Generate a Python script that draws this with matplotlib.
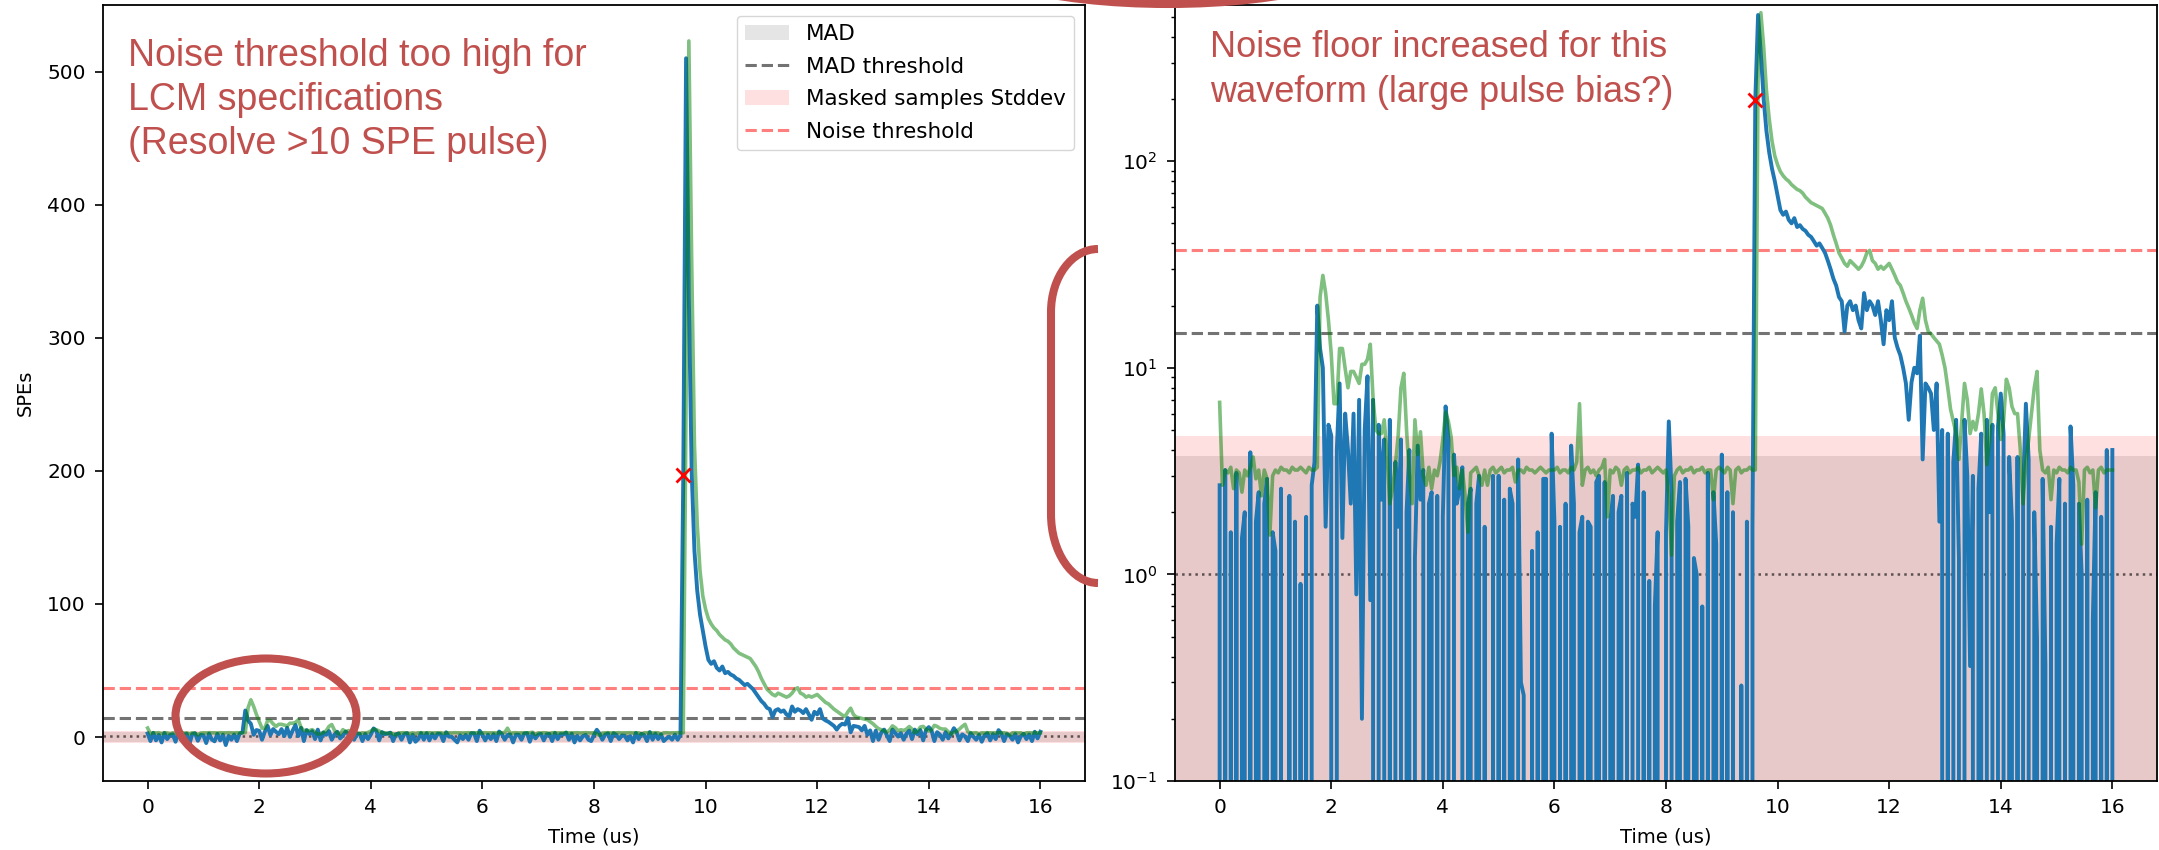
import numpy as np
import matplotlib
matplotlib.use("Agg")
import matplotlib.pyplot as plt
from matplotlib.patches import Ellipse, PathPatch
from matplotlib.path import Path
from matplotlib.transforms import Affine2D

# ---------------- data ----------------
sample_period_us = 0.05

# waveform (blue), one row per microsecond, 20 samples per row
blue_spes = [
    2.7, -3.0, 3.2, -2.5, 1.6, -4.0, 3.1, -1.5, 1.5, 2.0, -3.5, 3.9, -2.0, 1.8, 2.5, -5.0, 2.2, 2.9, -2.8, 1.6,
    1.3, -4.5, 2.6, -1.8, -3.2, 2.4, -2.5, 1.8, -6.0, 0.9, -2.0, 1.9, -3.0, 2.7, 3.5, 20.0, 12.4, 10.0, 1.7, 5.3,
    4.7, -2.0, 4.0, 8.4, 1.5, 6.0, 4.0, 2.2, 6.0, 0.8, 7.0, 0.2, 5.0, 9.1, 0.75, 7.0, -3.0, 5.3, 2.3, 4.5,
    -1.5, 5.6, -2.5, 3.5, 1.7, 4.5, -2.0, 2.0, 4.0, -1.0, 1.2, 4.2, 2.3, 3.2, -2.0, 2.2, 2.5, -3.0, 2.4, -1.5,
    1.9, 6.5, 4.5, -2.5, 3.8, 2.2, 2.6, 3.3, -3.0, 2.2, 2.6, -2.0, 2.2, 3.0, -4.0, 1.7, -3.5, -1.5, 3.0, -2.0,
    3.0, -2.5, 2.3, -1.0, 2.6, 2.2, -3.0, 3.6, 0.3, 0.26, -2.0, -4.0, 1.3, -1.5, 1.6, -2.0, 2.9, 2.9, -3.0, 4.8,
    1.8, -2.5, 1.7, -1.5, 2.2, -3.0, 4.2, 2.2, -2.0, 1.6, 1.9, -4.0, 1.8, 1.7, -2.0, 2.8, 3.0, -3.5, 2.8, -1.0,
    1.8, 2.4, -2.5, 2.0, 2.4, -3.0, 3.1, -1.5, 2.2, 1.9, 3.4, -2.0, 2.5, -4.0, 0.93, -2.5, 0.7, 1.6, -2.0, -3.0,
    1.6, 5.5, 2.5, -2.0, 1.8, 2.8, -3.0, 2.9, 1.7, -1.5, 1.2, 1.0, -2.5, 0.7, -4.0, 3.1, -1.5, 2.5, 1.4, -3.0,
    3.8, -2.0, 2.5, -1.5, 2.0, -3.0, -1.0, 0.29, -2.0, 1.8, -2.0, 1.7, 197.0, 510.0, 330.0, 200.0, 140.0, 110.0, 92.0, 80.0,
    68.0, 58.0, 55.0, 57.0, 52.0, 50.0, 53.0, 48.0, 49.0, 47.0, 46.0, 44.0, 43.0, 41.0, 39.0, 40.0, 38.0, 36.0, 33.0, 30.0,
    27.0, 25.0, 22.0, 21.0, 15.0, 20.0, 21.0, 19.0, 20.0, 17.0, 15.5, 23.0, 19.0, 21.0, 20.0, 18.0, 21.0, 17.0, 13.0, 19.0,
    17.0, 21.0, 14.0, 12.5, 11.5, 10.0, 8.4, 5.6, 8.5, 10.0, 9.4, 14.3, 3.6, 8.4, 8.0, 7.5, 5.0, 8.4, 1.8, 5.0,
    -3.0, 4.8, -2.0, 3.5, 5.6, 1.2, -3.0, 5.6, 3.0, 0.36, 3.0, -2.0, 2.6, 4.8, -1.5, 5.6, 2.0, 5.3, -2.5, 5.2,
    7.5, 4.8, -3.0, 3.7, 1.8, -2.0, 3.7, -1.0, 2.5, 6.7, 3.6, -2.5, 2.0, 0.48, -3.0, 2.9, 0.36, -2.0, 1.7, -3.5,
    1.4, 2.9, -2.5, 2.2, -1.5, 5.2, 2.7, -3.0, 2.2, 1.0, -2.0, 2.3, -4.0, 0.6, 2.5, -1.5, 1.9, -3.0, 4.0, -1.0,
    4.0,
]

# filtered waveform (green), same sampling
green_spes = [
    6.8, 2.7, 3.2, 3.1, 3.3, 2.6, 3.2, 3.1, 2.5, 3.2, 3.0, 3.3, 3.7, 2.9, 3.2, 2.4, 3.2, 2.9, 1.55, 3.0,
    3.2, 3.1, 3.3, 3.2, 3.2, 3.1, 3.3, 3.2, 3.2, 3.3, 3.2, 3.1, 3.3, 3.2, 3.2, 3.3, 22.0, 28.0, 23.0, 17.0,
    11.7, 6.7, 6.7, 12.4, 12.4, 9.9, 8.0, 9.6, 9.6, 9.0, 8.4, 10.4, 10.4, 11.0, 13.0, 7.1, 5.0, 4.8, 4.8, 5.6,
    3.8, 2.2, 2.6, 3.4, 4.7, 8.0, 9.4, 5.0, 3.0, 2.2, 5.6, 3.8, 4.9, 3.0, 2.7, 3.3, 2.6, 3.2, 3.0, 3.5,
    4.5, 6.1, 5.5, 4.6, 3.0, 3.3, 2.6, 3.2, 2.4, 1.6, 3.1, 3.2, 3.3, 3.0, 2.7, 3.2, 2.7, 3.2, 3.3, 3.1,
    3.2, 3.3, 3.1, 3.2, 3.2, 3.3, 2.8, 3.2, 3.2, 3.1, 3.3, 3.2, 3.2, 3.1, 3.2, 3.3, 3.2, 3.1, 3.2, 3.2,
    3.2, 3.3, 3.1, 3.2, 3.2, 3.1, 3.3, 3.2, 3.5, 6.7, 2.7, 3.2, 3.3, 3.1, 3.2, 3.0, 3.2, 3.3, 3.6, 1.9,
    3.2, 3.1, 3.3, 3.2, 2.7, 3.2, 3.3, 3.1, 3.2, 3.2, 3.3, 3.1, 3.2, 3.2, 3.3, 3.1, 3.2, 3.3, 3.2, 3.1,
    3.2, 2.4, 1.24, 3.0, 3.2, 3.3, 3.1, 3.2, 3.2, 3.3, 3.1, 3.2, 3.2, 3.3, 3.1, 3.2, 3.2, 2.3, 3.2, 3.3,
    3.2, 3.1, 3.3, 3.2, 2.2, 3.2, 3.3, 3.1, 3.2, 3.2, 3.3, 3.2, 3.2, 250.0, 523.0, 360.0, 220.0, 160.0, 125.0, 106.0,
    96.0, 89.0, 85.0, 82.0, 80.0, 77.0, 75.0, 73.0, 72.0, 70.0, 67.0, 65.0, 63.0, 62.0, 61.0, 60.0, 59.0, 56.0, 53.0, 49.0,
    44.0, 40.0, 36.0, 34.0, 32.0, 31.0, 33.0, 32.0, 31.0, 30.0, 31.0, 33.0, 36.0, 37.0, 33.0, 32.0, 30.0, 31.0, 30.0, 31.0,
    32.0, 30.0, 28.0, 26.0, 25.0, 23.0, 21.0, 19.5, 18.0, 16.5, 15.5, 19.0, 21.7, 17.0, 15.0, 14.6, 14.0, 13.5, 13.0, 11.5,
    10.0, 8.0, 6.3, 5.5, 4.8, 3.6, 5.5, 8.4, 7.0, 4.8, 5.5, 5.0, 6.0, 7.9, 6.0, 3.4, 4.5, 7.5, 8.0, 6.0,
    4.5, 5.5, 8.8, 8.0, 6.5, 6.0, 6.0, 4.0, 2.2, 3.5, 4.5, 6.0, 8.0, 9.6, 4.0, 3.2, 3.1, 3.3, 2.3, 3.2,
    3.1, 3.3, 3.2, 3.2, 3.1, 3.3, 3.2, 3.2, 2.8, 1.4, 3.2, 3.3, 3.1, 3.2, 2.1, 3.2, 3.3, 3.1, 3.2, 3.2,
    3.2,
]

pulse_marker_t = [9.6]
pulse_marker_spes = [197.0]

mad_band = 3.73
mad_threshold = 14.7
stddev_band = 4.69
noise_threshold = 37.2
unit_level = 1.0

x_ticks = [0, 2, 4, 6, 8, 10, 12, 14, 16]
legend_labels = ["MAD", "MAD threshold", "Masked samples Stddev", "Noise threshold"]
note_left = "Noise threshold too high for\nLCM specifications\n(Resolve >10 SPE pulse)"
note_right = "Noise floor increased for this\nwaveform (large pulse bias?)"
x_label = "Time (us)"
y_label = "SPEs"

# ---------------- figure ----------------
W, H = 2159, 850
fig = plt.figure(figsize=(W / 100, H / 100), dpi=100)
ax1 = fig.add_axes([103 / W, 1 - 781 / H, 982 / W, 776 / H])
ax2 = fig.add_axes([1175 / W, 1 - 781 / H, 982 / W, 776 / H])

t = np.arange(len(blue_spes)) * sample_period_us
ANNOT = "#C0504D"


def draw(ax, log=False):
    # on a log axis only the positive half of a symmetric band is visible
    lo_mad = mad_band * 1e-4 if log else -mad_band
    lo_std = stddev_band * 1e-4 if log else -stddev_band
    ax.axhspan(lo_mad, mad_band, color="gray", alpha=0.2, lw=0, label=legend_labels[0])
    ax.axhline(mad_threshold, color="k", alpha=0.55, ls="--", lw=2.2, label=legend_labels[1])
    ax.axhspan(lo_std, stddev_band, color="red", alpha=0.12, lw=0, label=legend_labels[2])
    ax.axhline(noise_threshold, color="red", alpha=0.5, ls="--", lw=2.2, label=legend_labels[3])
    ax.axhline(unit_level, color="k", alpha=0.6, ls=":", lw=1.8)
    ax.plot(t, blue_spes, color="#1f77b4", lw=2.8)
    ax.plot(t, green_spes, color="g", alpha=0.5, lw=2.6)
    ax.plot(pulse_marker_t, pulse_marker_spes, "x", color="red", ms=10, mew=2)
    ax.set_xlim(-0.8, 16.8)
    ax.set_xticks(x_ticks)
    ax.set_xlabel(x_label, fontsize=14, labelpad=7)
    ax.tick_params(which="major", labelsize=14.5, length=5.5, width=1.2, pad=7)
    ax.tick_params(which="minor", length=3, width=1.0)
    for s in ax.spines.values():
        s.set_linewidth(1.3)


draw(ax1)
ax1.set_ylim(-33, 550)
ax1.set_ylabel(y_label, fontsize=14, labelpad=9)
ax1.legend(loc="upper right", fontsize=15.5, borderaxespad=0.5, labelspacing=0.58)

ax2.set_yscale("log")
draw(ax2, log=True)
ax2.set_ylim(0.1, 570)

# ---------------- annotations (figure pixel coordinates) ----------------
px = Affine2D().scale(1 / W, -1 / H).translate(0, 1) + fig.transFigure

# va="baseline" on multi-line text anchors the baseline of the last line
fig.text(128 / W, 1 - 154.5 / H, note_left, color=ANNOT, fontsize=27,
         family=["Liberation Sans", "DejaVu Sans"], va="baseline", ha="left", linespacing=1.29)
fig.text(1210 / W, 1 - 101.7 / H, note_right, color=ANNOT, fontsize=26,
         family=["Liberation Sans", "DejaVu Sans"], va="baseline", ha="left", linespacing=1.36)

fig.add_artist(Ellipse((266, 716), 181, 115, transform=px, fill=False,
                       ec=ANNOT, lw=5.8, clip_on=False))
fig.add_artist(Ellipse((1168, -56), 440, 120, transform=px, fill=False,
                       ec=ANNOT, lw=5.8, clip_on=False))

bracket = Path(
    [(1098, 249), (1072, 249), (1051, 277), (1051, 312),
     (1051, 514),
     (1051, 552), (1072, 583), (1098, 583)],
    [Path.MOVETO, Path.CURVE4, Path.CURVE4, Path.CURVE4,
     Path.LINETO,
     Path.CURVE4, Path.CURVE4, Path.CURVE4],
)
fig.add_artist(PathPatch(bracket, transform=px, fill=False, ec=ANNOT,
                         lw=5.8, clip_on=False, capstyle="butt"))

fig.savefig("out.png", dpi=100)
